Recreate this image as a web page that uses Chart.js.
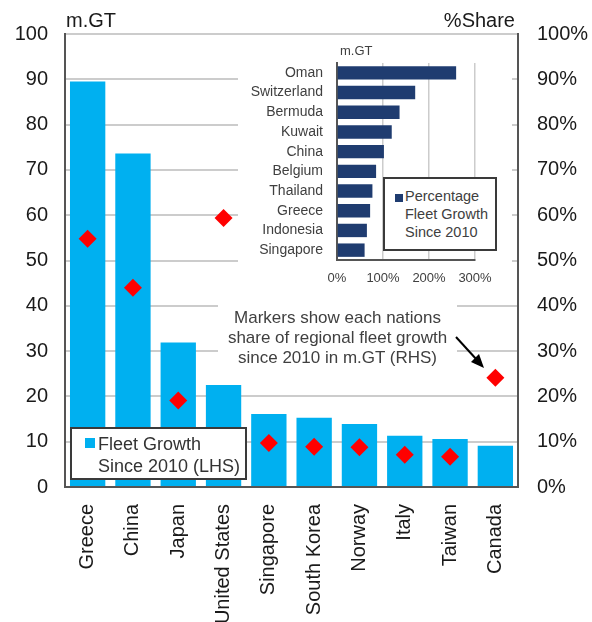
<!DOCTYPE html>
<html lang="en">
<head>
<meta charset="UTF-8">
<title>Fleet Growth Since 2010</title>
<script src="https://cdn.jsdelivr.net/npm/chart.js"></script>
<style>
  body { margin: 0; background: #fff; font-family: "Liberation Sans", Arial, sans-serif; }
  #wrap { position: relative; width: 592px; height: 622px; overflow: hidden; }
  #mainChart { position: absolute; left: 0; top: 0; }
  #insetBox { position: absolute; left: 238px; top: 40px; width: 274px; height: 250px; background: #fff; }
  #insetChart { position: absolute; left: 0; top: 0; }
  .txt { position: absolute; white-space: nowrap; color: #1a1a1a; }
  #unitL { left: 66px; top: 9px; font-size: 20px; }
  #unitR { right: 77px; top: 9px; font-size: 20px; }
  #insetUnit { left: 102px; top: 3px; font-size: 13px; color: #404040; }
  #insetLegend { position: absolute; left: 145px; top: 137px; width: 110px; height: 70px; border: 2px solid #3a3a3a; background: #fff; }
  #insetLegend .sq { position: absolute; left: 10px; top: 15px; width: 8px; height: 8px; background: #1f3c70; }
  #insetLegend .t { position: absolute; left: 20px; top: 8px; font-size: 14.5px; line-height: 18px; color: #404040; }
  #mainLegend { position: absolute; left: 70px; top: 427px; width: 173px; height: 49px; border: 2px solid #3a3a3a; background: #fff; }
  #mainLegend .sq { position: absolute; left: 13px; top: 9px; width: 10px; height: 10px; background: #00b0f0; }
  #mainLegend .t { position: absolute; left: 26px; top: 4px; font-size: 18px; line-height: 22px; color: #333; }
  #note { position: absolute; left: 218px; top: 300px; width: 239px; height: 64px; background: #fff; }
  #note .t { position: absolute; left: 0; top: 8px; width: 239px; text-align: center; font-size: 17px; line-height: 20px; color: #404040; }
  #arrow { position: absolute; left: 0; top: 0; }
</style>
</head>
<body>
<div id="wrap">
  <canvas id="mainChart" width="592" height="622"></canvas>
  <div class="txt" id="unitL">m.GT</div>
  <div class="txt" id="unitR">%Share</div>
  <div id="insetBox">
    <canvas id="insetChart" width="274" height="250"></canvas>
    <div class="txt" id="insetUnit">m.GT</div>
    <div id="insetLegend"><div class="sq"></div><div class="t">Percentage<br>Fleet Growth<br>Since 2010</div></div>
  </div>
  <div id="note"><div class="t">Markers show each nations<br>share of regional fleet growth<br>since 2010 in m.GT (RHS)</div></div>
  <svg id="arrow" width="592" height="622">
    <line x1="456" y1="337" x2="477" y2="360" stroke="#000" stroke-width="2"/>
    <polygon points="484,368 471,362 479,354" fill="#000"/>
  </svg>
  <div id="mainLegend"><div class="sq"></div><div class="t">Fleet Growth<br>Since 2010 (LHS)</div></div>
</div>
<script>
  // main chart data
  const countries = ['Greece', 'China', 'Japan', 'United States', 'Singapore', 'South Korea', 'Norway', 'Italy', 'Taiwan', 'Canada'];
  const fleetGrowth = [89.5, 73.6, 31.9, 22.5, 16.1, 15.3, 13.9, 11.3, 10.6, 9.1];
  const regionalShare = [54.8, 44.0, 19.1, 59.4, 9.7, 8.9, 8.8, 7.1, 6.7, 24.1];

  // inset chart data
  const insetCountries = ['Oman', 'Switzerland', 'Bermuda', 'Kuwait', 'China', 'Belgium', 'Thailand', 'Greece', 'Indonesia', 'Singapore'];
  const insetGrowthPct = [259, 170, 136, 119, 102, 85, 77, 72, 65, 60];

  const fontFamily = '"Liberation Sans", Arial, sans-serif';
  Chart.defaults.font.family = fontFamily;

  new Chart(document.getElementById('mainChart'), {
    data: {
      labels: countries,
      datasets: [
        {
          type: 'line',
          data: regionalShare,
          yAxisID: 'y1',
          showLine: false,
          pointStyle: 'rectRot',
          pointRadius: 9,
          pointHoverRadius: 9,
          backgroundColor: '#ff0000',
          borderColor: '#ff0000',
          borderWidth: 0,
          order: 0
        },
        {
          type: 'bar',
          data: fleetGrowth,
          yAxisID: 'y',
          backgroundColor: '#00b0f0',
          barPercentage: 0.78,
          categoryPercentage: 1,
          order: 1
        }
      ]
    },
    options: {
      responsive: false,
      animation: false,
      layout: { padding: { top: 34, left: 0, right: 0, bottom: 0 } },
      plugins: { legend: { display: false }, tooltip: { enabled: false } },
      scales: {
        x: {
          grid: { display: false, drawTicks: false },
          border: { color: '#555', width: 2 },
          ticks: { autoSkip: false, maxRotation: 90, minRotation: 90, padding: 17, color: '#1a1a1a', font: { size: 20 } },
          afterFit: s => { s.height = 135; }
        },
        y: {
          position: 'left',
          min: 0, max: 100,
          ticks: { stepSize: 10, padding: 17, color: '#1a1a1a', font: { size: 20 } },
          grid: { color: '#cccccc', lineWidth: 2, drawTicks: false },
          border: { color: '#555', width: 2 },
          afterFit: s => { s.width = 65; }
        },
        y1: {
          position: 'right',
          min: 0, max: 100,
          ticks: { stepSize: 10, padding: 19, color: '#1a1a1a', font: { size: 20 }, callback: v => v + '%' },
          grid: { display: false, drawTicks: false },
          border: { color: '#555', width: 2 },
          afterFit: s => { s.width = 74; }
        }
      }
    }
  });

  new Chart(document.getElementById('insetChart'), {
    type: 'bar',
    data: {
      labels: insetCountries,
      datasets: [{
        data: insetGrowthPct,
        backgroundColor: '#1f3c70',
        barPercentage: 0.68,
        categoryPercentage: 1
      }]
    },
    options: {
      indexAxis: 'y',
      responsive: false,
      animation: false,
      layout: { padding: { top: 23, right: 37, left: 0, bottom: 0 } },
      plugins: { legend: { display: false }, tooltip: { enabled: false } },
      scales: {
        x: {
          min: 0, max: 300,
          ticks: { stepSize: 100, padding: 11, color: '#404040', font: { size: 13 }, callback: v => v + '%' },
          grid: { color: '#cccccc', lineWidth: 1.5, drawTicks: false },
          border: { color: '#555', width: 2 },
          afterFit: s => { s.height = 30; }
        },
        y: {
          grid: { display: false, drawTicks: false },
          border: { color: '#555', width: 2 },
          ticks: { autoSkip: false, padding: 14, color: '#404040', font: { size: 14 } },
          afterFit: s => { s.width = 99; }
        }
      }
    }
  });
</script>
</body>
</html>
